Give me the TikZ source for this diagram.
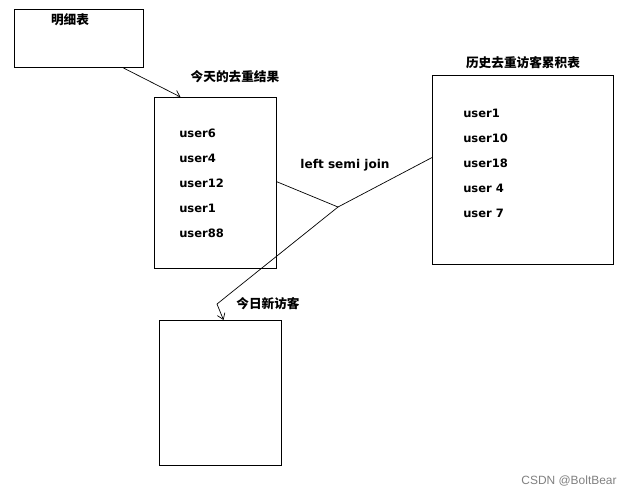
\documentclass[tikz,border=0pt]{standalone}
\usepackage{fontspec}
\setmainfont{DejaVu Sans}
\newfontfamily\cjk{Noto Sans CJK SC}
\newfontfamily\marksans{Liberation Sans}
\usetikzlibrary{arrows.meta, positioning}

\begin{document}
\begin{tikzpicture}[
    x=0.025cm, y=-0.025cm,
    box/.style={rectangle, draw, line width=0.7pt, inner sep=0pt, anchor=north west},
    title/.style={font=\cjk\bfseries\fontsize{9}{11}\selectfont},
    user/.style={anchor=west, inner sep=0pt, font=\bfseries\fontsize{8.2}{10}\selectfont},
    link/.style={line width=0.5pt},
    arrow/.style={line width=0.5pt, -{Straight Barb[angle=70:5pt]}},
]
    \useasboundingbox (0,0) rectangle (637,496);

    % the four tables
    \node[box, minimum width=3.225cm, minimum height=1.45cm] (detail) at (14,9) {};
    \node[box, minimum width=3.05cm, minimum height=4.275cm] (today) at (154,97) {};
    \node[box, minimum width=4.525cm, minimum height=4.725cm] (history) at (432,75) {};
    \node[box, minimum width=3.05cm, minimum height=3.625cm] (new) at (159,320) {};

    % titles
    \node[title] (detailT) at (70,20) {明细表};
    \node[title] (todayT) at (235,77) {今天的去重结果};
    \node[title] (historyT) at (523,63) {历史去重访客累积表};
    \node[title] (newT) at (268,304) {今日新访客};
    \node[font=\bfseries\fontsize{8.6}{11}\selectfont] (joinT) at (345,165) {left semi join};

    % users of today
    \node[user] (t1) at (179,133) {user6};
    \node[user] (t2) at (179,158) {user4};
    \node[user] (t3) at (179,183) {user12};
    \node[user] (t4) at (179,208) {user1};
    \node[user] (t5) at (179,233) {user88};

    % users of history
    \node[user] (h1) at (463,113) {user1};
    \node[user] (h2) at (463,138) {user10};
    \node[user] (h3) at (463,163) {user18};
    \node[user] (h4) at (463,188) {user 4};
    \node[user] (h5) at (463,213) {user 7};

    \node[font=\marksans\fontsize{8.5}{10}\selectfont, text=black!50] (mark) at (569,481) {CSDN @BoltBear};

    % connectors
    \coordinate (join) at (338,207);
    \coordinate (bend) at (217,304);
    \draw[arrow] ([xshift=1.1125cm]detail.south) -- ([xshift=-0.875cm]today.north);
    \draw[link] ([yshift=0.03cm]today.east) -- (join);
    \draw[link] ([yshift=0.3125cm]history.west) -- (join);
    \draw[arrow] (join) -- (bend) -- ([xshift=0.075cm]new.north);
\end{tikzpicture}
\end{document}
